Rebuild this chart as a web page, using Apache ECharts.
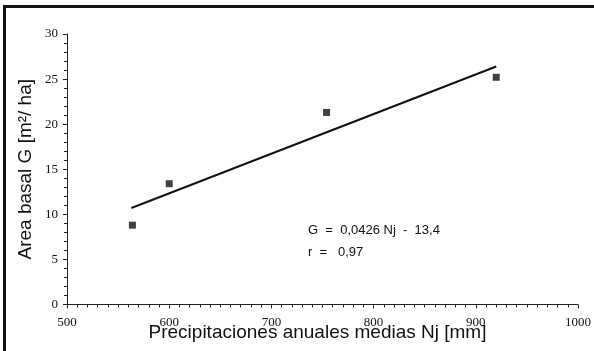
<!DOCTYPE html>
<html>
<head>
<meta charset="utf-8">
<script src="https://cdn.jsdelivr.net/npm/echarts@6/dist/echarts.min.js"></script>
<style>
  html, body { margin: 0; padding: 0; background: #fff; }
  #chart { width: 594px; height: 351px; }
</style>
</head>
<body>
<div id="chart"></div>
<script>
// Mean annual precipitation (mm) vs. basal area (m²/ha)
const precipitation = [564, 600, 754, 920];
const basalArea = [8.8, 13.4, 21.3, 25.2];

// Fitted line, drawn between the first and last site
const fitX = [563, 920];
const fitY = [10.7, 26.4];

const xTicks = [500, 600, 700, 800, 900, 1000];
const yTicks = [0, 5, 10, 15, 20, 25, 30];

const equationText = 'G  =  0,0426 Nj  -  13,4';
const rText = 'r  =   0,97';

const sans = '"Liberation Sans", Arial, sans-serif';
const serif = '"Liberation Serif", "Times New Roman", serif';

const chart = echarts.init(document.getElementById('chart'), null, { renderer: 'canvas' });

chart.setOption({
  animation: false,
  backgroundColor: '#fff',
  grid: {
    left: 67, right: 16, top: 34, bottom: 46.5,
    containLabel: false, outerBoundsMode: 'none'
  },
  xAxis: {
    type: 'value',
    min: xTicks[0],
    max: xTicks[xTicks.length - 1],
    interval: 100,
    name: 'Precipitaciones anuales medias Nj [mm]',
    nameLocation: 'middle',
    nameGap: 19,
    nameMoveOverlap: false,
    nameTextStyle: { fontFamily: sans, fontSize: 19, color: '#111', padding: [0, 10, 0, 0] },
    axisLine: { show: true, onZero: false, lineStyle: { color: '#222', width: 1 } },
    axisTick: { show: true, inside: false, length: 4, lineStyle: { color: '#222' } },
    minorTick: { show: true, splitNumber: 10, length: 3, lineStyle: { color: '#222' } },
    axisLabel: {
      fontFamily: serif, fontSize: 13, color: '#111', margin: 12,
      formatter: v => String(v)
    },
    splitLine: { show: false }
  },
  yAxis: {
    type: 'value',
    min: yTicks[0],
    max: yTicks[yTicks.length - 1],
    interval: 5,
    name: 'Area basal G [m²/ ha]',
    nameLocation: 'middle',
    nameGap: 32,
    nameMoveOverlap: false,
    nameRotate: 90,
    nameTextStyle: { fontFamily: sans, fontSize: 19, color: '#111' },
    axisLine: { show: true, onZero: false, lineStyle: { color: '#222', width: 1 } },
    axisTick: { show: true, inside: false, length: 4, lineStyle: { color: '#222' } },
    minorTick: { show: true, splitNumber: 5, length: 3, lineStyle: { color: '#222' } },
    axisLabel: { fontFamily: serif, fontSize: 13, color: '#111', margin: 9 },
    splitLine: { show: false }
  },
  series: [
    {
      type: 'line',
      data: fitX.map((x, i) => [x, fitY[i]]),
      symbol: 'none',
      lineStyle: { color: '#111', width: 2 },
      z: 2
    },
    {
      type: 'scatter',
      data: precipitation.map((x, i) => [x, basalArea[i]]),
      symbol: 'rect',
      symbolSize: 7,
      itemStyle: { color: '#111' },
      z: 3
    }
  ],
  graphic: [
    // frame lines along the top and left edges
    { type: 'rect', shape: { x: 3, y: 5, width: 591, height: 3 }, style: { fill: '#111' } },
    { type: 'rect', shape: { x: 3, y: 5, width: 3, height: 346 }, style: { fill: '#111' } },
    {
      type: 'text', left: 308, top: 224,
      style: { text: equationText, fontFamily: sans, fontSize: 13, fill: '#111' }
    },
    {
      type: 'text', left: 308, top: 246,
      style: { text: rText, fontFamily: sans, fontSize: 13, fill: '#111' }
    }
  ]
});
</script>
</body>
</html>
